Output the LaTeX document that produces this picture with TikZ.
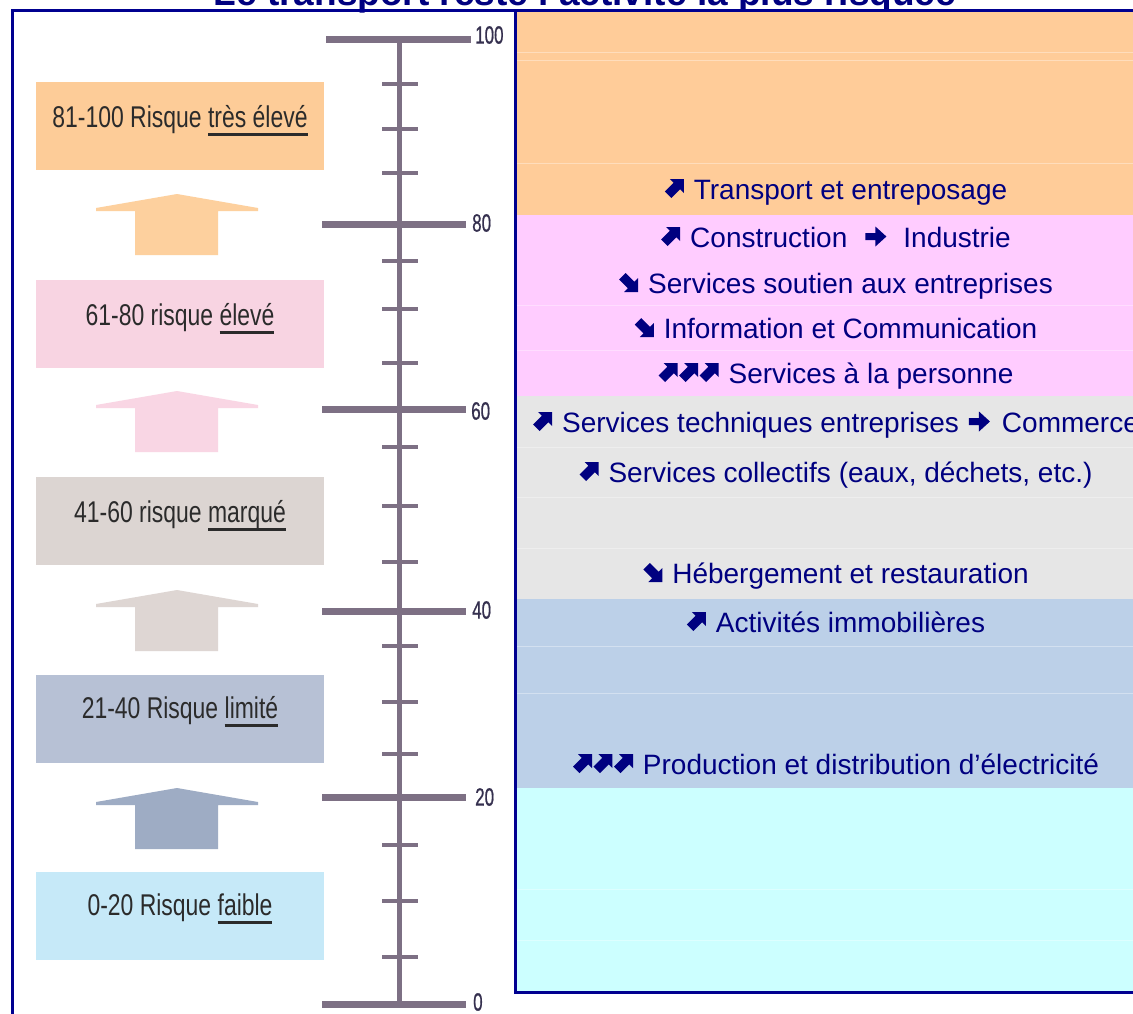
\documentclass[tikz,border=0pt]{standalone}
\usepackage{fontspec}
\setmainfont{Liberation Sans}
\newfontfamily\narrowf[FakeStretch=0.765]{Liberation Sans}
\newfontfamily\narrowd[FakeStretch=0.68,FakeBold=0.6]{Liberation Sans}
\newcommand\myul[1]{\setbox0\hbox{#1}\rlap{\rule[-9pt]{\wd0}{3.5pt}}\box0}
\definecolor{navy}{HTML}{000080}
\newcommand\NEa{\tikz[x=1pt,y=1pt,baseline=0pt]\fill[navy] (0,7.5) -- (8.75,16.25) -- (5,20) -- (19,20) -- (19,6) -- (15.25,9.75) -- (6.5,1) -- cycle;}
\newcommand\SEa{\tikz[x=1pt,y=1pt,baseline=0pt]\fill[navy] (0,13.5) -- (8.75,4.75) -- (5,1) -- (19,1) -- (19,15) -- (15.25,11.25) -- (6.5,20) -- cycle;}
\newcommand\Ea{\tikz[x=1pt,y=1pt,baseline=0pt]\fill[navy] (0,7) -- (10,7) -- (10,0.5) -- (21,10.5) -- (10,20.5) -- (10,14) -- (0,14) -- cycle;}
\newcommand\NEthree{\NEa\hspace{1.5pt}\NEa\hspace{1.5pt}\NEa}
\newcommand\gap{\hspace{10pt}}
\definecolor{frameblue}{HTML}{000090}
\definecolor{scalec}{HTML}{7D7084}
\definecolor{scalet}{HTML}{35304F}
\definecolor{lefttext}{HTML}{2B2B2B}
\definecolor{boxA}{HTML}{FDCC98}
\definecolor{arrA}{HTML}{FDD09E}
\definecolor{boxB}{HTML}{F8D4E2}
\definecolor{arrB}{HTML}{F9D6E4}
\definecolor{boxC}{HTML}{DCD5D2}
\definecolor{arrC}{HTML}{DED6D3}
\definecolor{boxD}{HTML}{B7C1D5}
\definecolor{arrD}{HTML}{9EACC4}
\definecolor{boxE}{HTML}{C6E9F8}
\definecolor{bandA}{HTML}{FFCC99}
\definecolor{bandB}{HTML}{FFCCFF}
\definecolor{bandC}{HTML}{E6E6E6}
\definecolor{bandD}{HTML}{BCD0E8}
\definecolor{bandE}{HTML}{CCFFFF}
\tikzset{
  riskbox/.style={draw=none, inner sep=0pt, minimum width=288pt, minimum height=88pt},
  risktext/.style={anchor=base, inner sep=0pt, text=lefttext, font=\narrowf\fontsize{30}{34}\selectfont},
  majortick/.style={draw=scalec, line width=7pt},
  minortick/.style={draw=scalec, line width=4pt},
  scalelabel/.style={anchor=west, inner sep=0pt, text=scalet, font=\narrowd\fontsize{25}{28}\selectfont},
  sectortext/.style={anchor=base, inner sep=0pt, text=navy, font=\fontsize{28}{32}\selectfont},
  faint/.style={draw=white, opacity=0.35, line width=1pt},
}
\begin{document}
\begin{tikzpicture}[x=1pt,y=-1pt]
\useasboundingbox (0,0) rectangle (1133,1013);
\clip (0,0) rectangle (1133,1013);
\fill[white] (0,0) rectangle (1133,1013);

% title (cropped)
\node[anchor=base, inner sep=0pt, text=navy, font=\bfseries\fontsize{37}{40}\selectfont] (title) at (585,5) {Le transport reste l’activité la plus risquée};

% ---- right panel bands
\fill[bandA] (515,10) rectangle (1145,215);
\fill[bandB] (515,215) rectangle (1145,396);
\fill[bandC] (515,396) rectangle (1145,599);
\fill[bandD] (515,599) rectangle (1145,788);
\fill[bandE] (515,788) rectangle (1145,992);
\foreach \yy in {52,60,163,305,350,447,497,548,646,693,889,940}
  \draw[faint] (517,\yy) -- (1145,\yy);

% sector texts
\node[sectortext] (s1) at (836,199) {\NEa\gap Transport et entreposage};
\node[sectortext] (s2) at (836,247) {\NEa\gap Construction\hspace{18pt}\Ea\hspace{17pt}Industrie};
\node[sectortext] (s3) at (836,293) {\SEa\gap Services soutien aux entreprises};
\node[sectortext] (s4) at (836,338) {\SEa\gap Information et Communication};
\node[sectortext] (s5) at (836,383) {\NEthree\gap Services à la personne};
\node[sectortext] (s6) at (836,432) {\NEa\gap Services techniques entreprises\hspace{10pt}\Ea\hspace{12pt}Commerce};
\node[sectortext] (s7) at (836,482) {\NEa\gap Services collectifs (eaux, déchets, etc.)};
\node[sectortext] (s8) at (836,583) {\SEa\gap Hébergement et restauration};
\node[sectortext] (s9) at (836,632) {\NEa\gap Activités immobilières};
\node[sectortext] (s10) at (836,774) {\NEthree\gap Production et distribution d’électricité};

% panel border
\draw[frameblue, line width=3pt] (1145,10) -- (515,10) -- (515,992) -- (1145,992);
% left frame
\draw[frameblue, line width=3pt] (12,1020) -- (12,10) -- (515,10);

% ---- left risk boxes
\node[riskbox, fill=boxA] (bA) at (180,126) {};
\node[riskbox, fill=boxB] (bB) at (180,324) {};
\node[riskbox, fill=boxC] (bC) at (180,521) {};
\node[riskbox, fill=boxD] (bD) at (180,719) {};
\node[riskbox, fill=boxE] (bE) at (180,916) {};
\node[risktext] (tA) at (180,127) {81-100 Risque \myul{très élevé}};
\node[risktext] (tB) at (180,325) {61-80 risque \myul{élevé}};
\node[risktext] (tC) at (180,522) {41-60 risque \myul{marqué}};
\node[risktext] (tD) at (180,718) {21-40 Risque \myul{limité}};
\node[risktext] (tE) at (180,915) {0-20 Risque \myul{faible}};

% block arrows
\foreach \a/\c in {194/arrA,391/arrB,590/arrC,788/arrD}{
  \fill[\c] (96,\a+17) -- (96,\a+14) -- (177,\a) -- (258,\a+14) -- (258,\a+17)
    -- (218,\a+17) -- (218,\a+61) -- (135,\a+61) -- (135,\a+17) -- cycle;
}

% ---- scale
\draw[scalec, line width=5pt] (399,39) -- (399,1004);
\draw[majortick] (326,39) -- (471,39);
\foreach \yy in {224,409,611,797,1004}
  \draw[majortick] (322,\yy) -- (466,\yy);
\foreach \yy in {84,129,173,261,309,363,447,506,562,646,702,754,845,901,957}
  \draw[minortick] (382,\yy) -- (418,\yy);
\node[scalelabel] (l100) at (475,35) {100};
\node[scalelabel] (l80) at (472,223) {80};
\node[scalelabel] (l60) at (471,411) {60};
\node[scalelabel] (l40) at (472,610) {40};
\node[scalelabel] (l20) at (475,797) {20};
\node[scalelabel] (l0) at (473,1002) {0};
\end{tikzpicture}
\end{document}
